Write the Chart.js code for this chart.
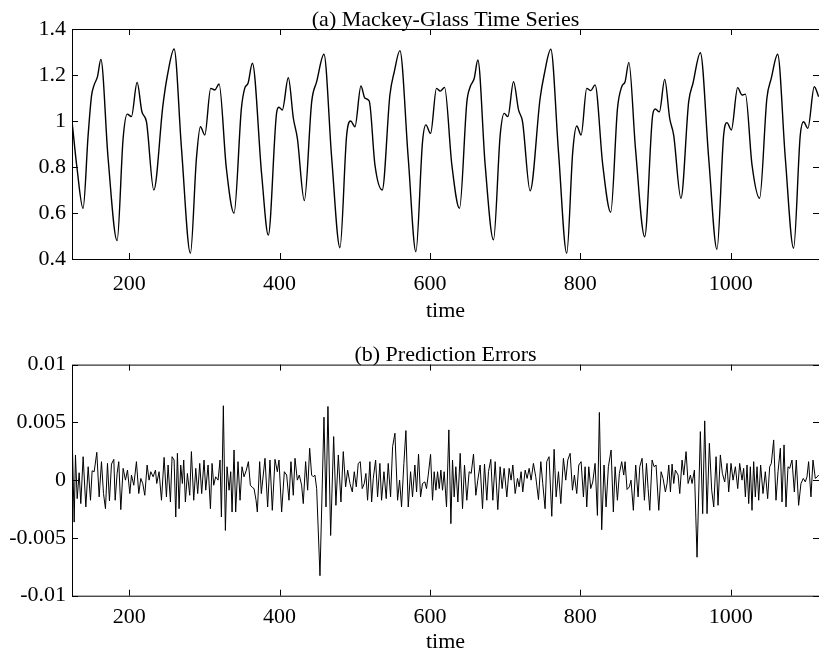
<!DOCTYPE html>
<html>
<head>
<meta charset="utf-8">
<script src="https://cdn.jsdelivr.net/npm/chart.js@4.4.1/dist/chart.umd.min.js"></script>
<style>
  html, body { margin: 0; padding: 0; background: #fff; overflow: hidden; }
  #wrap { position: relative; width: 819px; height: 653px; overflow: hidden; }
  canvas { position: absolute; left: 0; }
</style>
</head>
<body>
<div id="wrap">
  <canvas id="mg" width="819" height="330" style="top:0"></canvas>
  <canvas id="err" width="819" height="340" style="top:330px"></canvas>
</div>
<script>
// (a) Mackey-Glass series (time, value)
const mgTime = [124, 130.5, 138.7, 145.5, 150, 153.5, 157.9, 162.4, 172, 184,
  192, 197.5, 203, 210.6, 217, 223, 232.8, 245, 251, 259.8,
  269.6, 281.5, 289.5, 294.8, 300.6, 308.5, 313.9, 319.6, 329.3, 339.5,
  349.3, 353.7, 358.1, 363.9, 376.3, 385.1, 396.3, 399.3, 403.7, 411.7,
  418.4, 423.7, 433, 442.8, 449.4, 459.1, 469.4, 480.4, 489.3, 494.6,
  500.3, 508.3, 513.6, 519.3, 526.9, 536.6, 546.8, 552.6, 560.1, 571.2,
  581.4, 590.2, 594.7, 600.9, 608.8, 613.8, 619.5, 629.2, 639.4, 649.2,
  653.6, 658.9, 663.8, 673.5, 684.6, 693.5, 698.8, 703.7, 711.2, 717.9,
  723.2, 733.3, 746.6, 751.9, 760.8, 771, 782, 790, 795.3, 801.1,
  808.6, 814, 819.7, 829.9, 840.5, 849.5, 855.1, 859.6, 864.6, 873.4,
  885.7, 896.3, 899.8, 905.2, 912.3, 918.9, 924.2, 933.9, 944.2, 949.9,
  959.7, 970.8, 981.8, 990.7, 995.1, 1000.9, 1009.3, 1015, 1019.6, 1028.4,
  1038.5, 1048.2, 1054, 1062.5, 1072.7, 1083.7, 1092.6, 1097, 1102.7, 1111.2,
  1117];
const mgValue = [1.0, 0.80, 0.62, 0.94, 1.11, 1.157, 1.193, 1.268, 0.838, 0.48,
  0.925, 1.03, 1.019, 1.168, 1.04, 0.997, 0.70, 1.07, 1.2, 1.313,
  0.881, 0.425, 0.838, 0.975, 0.939, 1.142, 1.135, 1.161, 0.794, 0.599,
  1.055, 1.142, 1.164, 1.251, 0.765, 0.504, 1.04, 1.06, 1.048, 1.188,
  1.012, 0.925, 0.654, 1.084, 1.171, 1.29, 0.838, 0.449, 0.939, 1.0,
  0.975, 1.152, 1.099, 1.087, 0.809, 0.70, 1.113, 1.214, 1.306, 0.838,
  0.432, 0.91, 0.983, 0.946, 1.142, 1.13, 1.146, 0.809, 0.62, 1.084,
  1.149, 1.185, 1.265, 0.809, 0.483, 0.939, 1.033, 1.019, 1.171, 1.048,
  0.997, 0.696, 1.099, 1.2, 1.312, 0.867, 0.425, 0.867, 0.978, 0.939,
  1.142, 1.132, 1.157, 0.809, 0.603, 1.055, 1.149, 1.171, 1.255, 0.881,
  0.497, 1.026, 1.052, 1.04, 1.181, 1.012, 0.939, 0.664, 1.084, 1.164,
  1.297, 0.838, 0.442, 0.939, 0.993, 0.961, 1.145, 1.113, 1.117, 0.809,
  0.664, 1.099, 1.185, 1.29, 0.838, 0.447, 0.939, 0.997, 0.968, 1.149,
  1.106];

// (b) prediction errors (time, error)
const errTime = [124.2, 126.9, 128.6, 130.9, 133.5, 135.7, 138.8, 142.4, 145.5, 148.6,
  150.8, 153.5, 157, 160.1, 163.2, 165.9, 168.5, 171.2, 173.8, 176.5,
  179.6, 181.4, 184, 186.2, 188.9, 192, 195.1, 197.8, 200.9, 203.1,
  206.2, 209.7, 212.8, 215.5, 218.1, 220.8, 223.9, 226.5, 228.8, 231.9,
  235, 236.7, 239.8, 243, 246.5, 249.6, 251.8, 254.9, 257.1, 259.8,
  262, 264.2, 266.4, 268.6, 270.8, 272.6, 274.8, 277.5, 280.6, 282.8,
  285.9, 288.6, 291.2, 293.9, 296.5, 299.6, 301.9, 305, 308.1, 310.3,
  312.5, 315.1, 318.3, 320.9, 322.7, 325.3, 328, 330.2, 332.9, 335.1,
  336.9, 339.5, 341.7, 344.8, 347.5, 350.1, 352.8, 355.9, 358.6, 361.2,
  363.9, 366.1, 368.8, 370.5, 373.6, 375.8,
  380.7, 384.2, 387.3, 390.4, 394, 397.1, 399.3, 402.8, 406.4, 409.5,
  412.6, 415.2, 418.3, 420.6, 423.7, 426.3, 429.4, 431.6, 434.7, 437.4,
  440.1, 442.7, 444.9, 447.1, 449.4, 453.8, 459.1, 461.8, 464.4, 468,
  472, 475, 478.2, 481.7, 484.8, 487.9, 490.6, 493.7, 496.8, 499.4,
  502.1, 504.7, 507.4, 510, 512.7, 514.9, 517.1, 520.2, 522.5, 524.7,
  527.8, 530.4, 533.5, 535.7, 538.9, 541.9, 544.6, 547.7, 550.4, 553.5,
  557, 559.7, 562.3, 565.4, 568.1, 571.2, 574.3, 576.9, 580, 582.3,
  584.9, 587.6, 590.2, 593.3, 595.5, 597.8, 600.9, 603.5, 605.7, 608,
  610.2, 612.4, 614.6, 616.8, 619, 622.1, 625.2,
  627.9, 630.1, 632.3, 634.5, 637.2, 640.3, 643.4, 646, 649.1, 652.2,
  654.9, 658, 661.1, 663.7, 666.8, 670, 672.6, 675.7, 677.9, 681,
  683.7, 686.8, 690.3, 693.4, 696.1, 698.7, 702.3, 705.4, 708, 710.3,
  713.4, 716.5, 718.7, 721.3, 723.5, 726.7, 729.3, 732, 734.6, 737.7,
  740.8, 744.4, 747.5, 750.1, 753.2, 755.4, 758.5, 762.1, 765.2, 767.9,
  771, 774.1, 777.6, 780.7, 783.4, 786.5, 789.6, 792.2, 795.3, 798,
  801.1, 804.2, 806.4, 808.6, 811.3, 813.9, 816.6, 819.7, 822.8, 825.4,
  828.5, 831.6, 834.3, 837.4, 841, 844, 846.3, 849.4, 852, 855.1,
  857.8, 859.6, 862.2, 865.3, 867.5, 870.6, 873.7,
  876.9, 879.1, 882.2, 885.3, 888, 890.2, 892.4, 895.5, 898.2, 900.8,
  904.4, 907.5, 910.1, 913.2, 915.4, 917.7, 919.9, 922.1, 924.3, 926.5,
  930.1, 932.3, 935.4, 937.6, 940.7, 943.4, 946.5, 948.7, 951.8, 955.3,
  959.7, 962.8, 965.5, 968.6, 971.7, 974.8, 977.5, 980.6, 983.2, 986.3,
  989, 992.1, 995.2, 997.4, 1000.5, 1003.2, 1006.3, 1009.4, 1012, 1015.1,
  1017.3, 1019.6, 1021.8, 1024, 1026.2, 1028.4, 1030.6, 1032.8, 1035.1, 1037.3,
  1039.9, 1043, 1046.1, 1049.2, 1051.9, 1054.1, 1057.2, 1060.3, 1063, 1066.1,
  1068.3, 1071, 1073.6, 1076.3, 1078.5, 1081.6, 1084.7, 1087.3, 1090.4, 1093.5,
  1096.6, 1099.3, 1101.5, 1103.7, 1106.8, 1109.5, 1112.6, 1115.2, 1117];
const errValue = [0.00392, -0.00363, 0.00218, -0.0016, 0.00064, -0.00203, 0.00203, -0.00232, 0.00116, -0.00174,
  0.00081, 0.00073, 0.00241, -0.00145, 0.0016, -0.00116, -0.00247, 0.00145, -0.0018, 0.00139,
  0.0018, -0.00174, 0.00058, 0.0016, -0.00255, 0.00102, 0, 0.00087, -0.00116, 0.00044,
  -0.00044, 0.0016, -0.00116, 0.00015, -0.00029, -0.00131, 0.00131, 0, 0.00073, 0.00029,
  0.00087, -0.00029, 0.00073, -0.00174, 0.00197, -0.00145, 0.00131, -0.00189, 0.00203, 0.00174,
  -0.00319, 0.00232, -0.00247, 0.00131, -0.00029, 0.00174, -0.00189, 0.00058, -0.00131, 0.00247,
  -0.00174, 0.00102, -0.00116, 0.00145, -0.00116, 0.00174, -0.00087, 0.00131, -0.00247, 0.00145,
  -0.00044, 0.00029, 0, 0.00174, -0.00319, 0.00644, -0.00435, 0.00116, -0.00087, 0.00073,
  -0.00276, 0.00261, -0.00276, 0.0016, -0.00174, 0.00116, 0.00029, 0.00087, 0.0016, -0.00044,
  -0.00064, -0.00073, -0.00174, -0.00276, 0.0016, -0.00116,
  0.00189, -0.00232, 0.00174, -0.00261, 0.0018, 0.00073, 0.00174, -0.00276, 0.00073, 0.00044,
  -0.00174, 0.0016, -0.00131, 0.00189, 0, 0.00044, -0.00044, -0.00203, 0.0016, -0.00087,
  0.00276, 0.00044, 0.00029, 0.00044, -0.00073, -0.00827, 0.00545, -0.00232, 0.00638, -0.00479,
  0.00377, -0.00218, 0.00218, -0.00189, 0.00247, -0.00058, 0.00087, -0.00029, -0.00102, 0.00073,
  -0.00058, 0.00145, 0.0016, -0.00073, -0.00029, 0.00058, -0.00174, 0.0016, -0.00189, 0.00015,
  0.00174, -0.00145, 0.00145, -0.00174, 0.00073, -0.0016, 0.00145, -0.00145, 0.0029, 0.00406,
  -0.00174, 0, -0.00232, 0.00145, 0.00429, -0.00232, 0.00073, -0.00145, 0.00131, -0.00102,
  0.00226, -0.00145, -0.00029, -0.00015, -0.00073, 0.00044, 0.00223, -0.00174, 0.00073, -0.00087,
  0.00073, -0.00073, 0.00087, -0.00087, 0.00073, -0.00232, 0.00435,
  -0.00377, 0.00174, -0.00145, 0.00116, -0.00189, 0.00232, -0.00247, 0.00131, -0.00174, 0.00073,
  0.00058, 0.00226, -0.00131, 0, 0.00131, -0.00247, 0.00139, -0.00174, 0.00073, 0.0018,
  -0.00174, 0.0016, -0.00255, 0.00116, -0.00073, 0.00102, -0.00145, 0.00102, 0, 0.00131,
  -0.00116, 0.00015, -0.00058, 0.00073, -0.00102, 0.00087, 0.00015, 0.00102, 0, 0.00145,
  0.00029, -0.00168, 0.0016, -0.00029, -0.00247, 0.0016, 0.00203, -0.00313, 0.00267, -0.00145,
  0.00073, -0.00203, 0.00189, 0, 0.00174, 0.00232, -0.00087, 0.00044, -0.00116, 0.00131,
  0.0016, -0.00145, 0.00116, -0.00232, 0.00116, -0.00073, -0.00015, 0.00145, -0.00305, 0.00586,
  -0.00429, 0.00131, -0.00232, 0.00116, 0.00261, -0.00276, 0.00116, -0.00174, 0.00058, 0.0016,
  0.00044, 0.0016, -0.00081, -0.00058, 0, -0.00261, 0.00131,
  -0.00145, 0.00116, 0.00189, -0.00174, 0.00145, -0.00073, -0.00261, 0.00174, 0.00116, 0.00131,
  -0.00261, 0.00073, 0.00015, -0.00102, -0.00029, 0.00131, -0.00102, 0.00139, -0.00029, 0.00087,
  0.00044, -0.00116, 0.00174, 0.00044, 0.00247, -0.00029, 0.00044, -0.00029, 0.00087, -0.00667,
  0.0042, -0.0029, 0.00513, -0.0029, 0.00319, -0.00087, -0.00232, 0.00203, -0.00218, 0.00218,
  0.00058, -0.00015, 0.00145, -0.00102, 0.00145, 0, 0.00116, -0.00073, 0.00145, 0,
  0.00102, -0.00145, 0.00131, -0.00203, 0.00116, -0.00261, 0.0016, -0.00145, 0.00116, -0.00174,
  0.00131, -0.00116, 0.00073, -0.0016, 0.00116, 0.00145, 0.00348, -0.00174, 0.00073, 0.00276,
  -0.00189, 0.00305, -0.00232, 0.00116, 0.00102, 0.00174, -0.00102, 0.00174, -0.00218, -0.00029,
  0.00015, -0.00015, 0.00029, 0.0016, -0.00145, 0.00174, 0.00015, 0.00029, 0.00044];

const timeTicks = [200, 400, 600, 800, 1000];
const mgTicks = [0.4, 0.6, 0.8, 1, 1.2, 1.4];
const mgTickLabels = ["0.4", "0.6", "0.8", "1", "1.2", "1.4"];
const errTicks = [-0.01, -0.005, 0, 0.005, 0.01];
const errTickLabels = ["-0.01", "-0.005", "0", "0.005", "0.01"];

const FONT = "'Liberation Serif', 'Times New Roman', serif";
const FONT_SIZE = 22;

// box around the plot with ticks pointing inward on all four sides
const frameTicks = {
  id: "frameTicks",
  afterDraw(chart) {
    const { ctx, chartArea: a, scales } = chart;
    const len = 6;
    ctx.save();
    ctx.strokeStyle = "#000";
    ctx.lineWidth = 1;
    ctx.strokeRect(a.left + 0.5, a.top + 0.5, a.right - a.left, a.bottom - a.top);
    ctx.beginPath();
    scales.x.ticks.forEach((t) => {
      const px = Math.round(scales.x.getPixelForValue(t.value)) + 0.5;
      ctx.moveTo(px, a.bottom);
      ctx.lineTo(px, a.bottom - len);
      ctx.moveTo(px, a.top);
      ctx.lineTo(px, a.top + len);
    });
    scales.y.ticks.forEach((t) => {
      const py = Math.round(scales.y.getPixelForValue(t.value)) + 0.5;
      ctx.moveTo(a.left, py);
      ctx.lineTo(a.left + len, py);
      ctx.moveTo(a.right, py);
      ctx.lineTo(a.right - len, py);
    });
    ctx.stroke();
    ctx.restore();
  },
};

function makePanel(canvasId, cfg) {
  return new Chart(document.getElementById(canvasId), {
    type: "line",
    data: {
      datasets: [
        {
          data: cfg.xs.map((x, i) => ({ x, y: cfg.ys[i] })),
          borderColor: "#000",
          borderWidth: cfg.lineWidth,
          pointRadius: 0,
          tension: 0,
          cubicInterpolationMode: cfg.smooth ? "monotone" : "default",
          fill: false,
        },
      ],
    },
    options: {
      responsive: false,
      animation: false,
      events: [],
      layout: { padding: 0 },
      plugins: {
        legend: { display: false },
        tooltip: { enabled: false },
        title: {
          display: true,
          text: cfg.title,
          fullSize: false,
          color: "#000",
          font: { family: FONT, size: FONT_SIZE, weight: "normal", lineHeight: 0.8 },
          padding: cfg.titlePad,
        },
      },
      scales: {
        x: {
          type: "linear",
          min: 124,
          max: 1117.5,
          grid: { display: false, drawTicks: false },
          border: { display: false },
          afterBuildTicks: (s) => {
            s.ticks = timeTicks.map((v) => ({ value: v }));
          },
          afterFit: (s) => {
            s.height = cfg.xHeight;
          },
          ticks: {
            color: "#000",
            font: { family: FONT, size: FONT_SIZE },
            padding: cfg.xTickPad,
            maxRotation: 0,
            callback: (v) => String(v),
          },
          title: {
            display: true,
            text: "time",
            color: "#000",
            font: { family: FONT, size: FONT_SIZE },
            padding: { top: 0, bottom: cfg.xTitlePad },
          },
        },
        y: {
          type: "linear",
          min: cfg.yTicks[0],
          max: cfg.yTicks[cfg.yTicks.length - 1],
          grid: { display: false, drawTicks: false },
          border: { display: false },
          afterBuildTicks: (s) => {
            s.ticks = cfg.yTicks.map((v) => ({ value: v }));
          },
          afterFit: (s) => {
            s.width = 72;
          },
          ticks: {
            color: "#000",
            font: { family: FONT, size: FONT_SIZE },
            padding: 6,
            callback: (v) => cfg.yLabels[cfg.yTicks.indexOf(v)],
          },
        },
      },
    },
    plugins: [frameTicks],
  });
}

makePanel("mg", {
  xs: mgTime,
  ys: mgValue,
  smooth: true,
  lineWidth: 1.4,
  title: "(a) Mackey-Glass Time Series",
  titlePad: { top: 11, bottom: 0.4 },
  xHeight: 71,
  xTickPad: 12,
  xTitlePad: 6,
  yTicks: mgTicks,
  yLabels: mgTickLabels,
});

makePanel("err", {
  xs: errTime,
  ys: errValue,
  smooth: false,
  lineWidth: 1,
  title: "(b) Prediction Errors",
  titlePad: { top: 16, bottom: 1 },
  xHeight: 74.3,
  xTickPad: 8,
  xTitlePad: 15,
  yTicks: errTicks,
  yLabels: errTickLabels,
});
</script>
</body>
</html>
